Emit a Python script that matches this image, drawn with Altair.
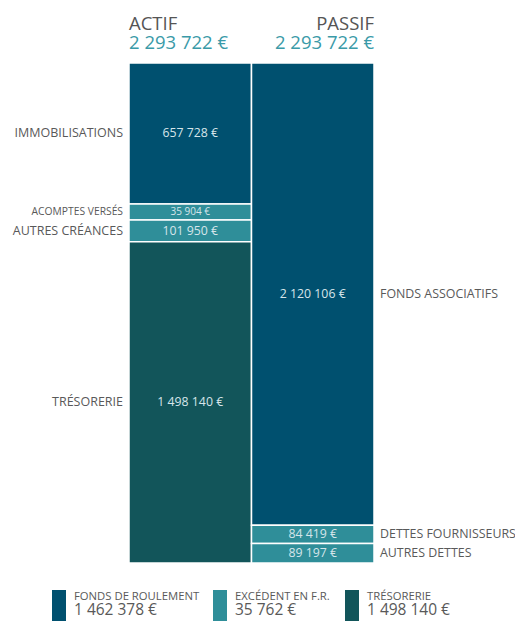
import altair as alt
import pandas as pd

# ---- data ----
actif_labels = ["IMMOBILISATIONS", "ACOMPTES VERSÉS", "AUTRES CRÉANCES", "TRÉSORERIE"]
actif_values = [657728, 35904, 101950, 1498140]
actif_groups = ["FONDS DE ROULEMENT", "EXCÉDENT EN F.R.", "EXCÉDENT EN F.R.", "TRÉSORERIE"]

passif_labels = ["FONDS ASSOCIATIFS", "DETTES FOURNISSEURS", "AUTRES DETTES"]
passif_values = [2120106, 84419, 89197]
passif_groups = ["FONDS DE ROULEMENT", "EXCÉDENT EN F.R.", "EXCÉDENT EN F.R."]

legend_labels = ["FONDS DE ROULEMENT", "EXCÉDENT EN F.R.", "TRÉSORERIE"]
legend_values = [1462378, 35762, 1498140]
legend_colors = ["#00506f", "#2f8e99", "#12555a"]

sides = ["ACTIF", "PASSIF"]

FONT = "Open Sans"
MIN_SHARE = 0.032  # minimum displayed share of a segment


def euro(v):
    return f"{v:,}".replace(",", " ") + " €"


def build(side, labels, values, groups):
    total = sum(values)
    min_v = MIN_SHARE * total
    small = [v < min_v for v in values]
    extra = sum(min_v - v for v, s in zip(values, small) if s)
    big_sum = sum(v for v, s in zip(values, small) if not s)
    disp = [min_v if s else v - extra * v / big_sum for v, s in zip(values, small)]
    rows, start = [], 0.0
    for lab, v, g, d, s in zip(labels, values, groups, disp, small):
        rows.append(dict(side=side, label=lab, value=v, text=euro(v), group=g,
                         y0=start, y1=start + d, mid=start + d / 2, small=s))
        start += d
    return rows


df = pd.DataFrame(build("ACTIF", actif_labels, actif_values, actif_groups)
                  + build("PASSIF", passif_labels, passif_values, passif_groups))
total = sum(actif_values)

titles = pd.DataFrame({"side": sides, "total": [euro(sum(actif_values)), euro(sum(passif_values))]})
leg = pd.DataFrame({"label": legend_labels, "text": [euro(v) for v in legend_values]})

yscale = alt.Scale(domain=[0, total], reverse=True, nice=False, zero=True)
xscale = alt.Scale(domain=sides, paddingInner=0, paddingOuter=0)

base = alt.Chart(df)

rects = base.mark_rect(stroke="white", strokeWidth=1.5).encode(
    x=alt.X("side:N", scale=xscale, axis=None),
    y=alt.Y("y0:Q", scale=yscale, axis=None),
    y2="y1:Q",
    color=alt.Color("group:N", scale=alt.Scale(domain=legend_labels, range=legend_colors), legend=None),
)

inner = base.mark_text(font=FONT, color="#d6e5ea", baseline="middle").encode(
    x=alt.X("side:N", scale=xscale, axis=None),
    y=alt.Y("mid:Q", scale=yscale, axis=None),
    text="text:N",
    size=alt.condition("datum.small", alt.value(10), alt.value(12.3)),
)

left_lab = base.transform_filter("datum.side == 'ACTIF'").mark_text(
    font=FONT, color="#595959", align="right", baseline="middle"
).encode(
    x=alt.value(-6),
    y=alt.Y("mid:Q", scale=yscale, axis=None),
    text="label:N",
    size=alt.condition("datum.small", alt.value(10.3), alt.value(12.5)),
)

right_lab = base.transform_filter("datum.side == 'PASSIF'").mark_text(
    font=FONT, color="#595959", align="left", baseline="middle", fontSize=12.4
).encode(
    x=alt.value(251),
    y=alt.Y("mid:Q", scale=yscale, axis=None),
    text="label:N",
)

tbase = alt.Chart(titles)
t_actif = tbase.transform_filter("datum.side == 'ACTIF'")
t_passif = tbase.transform_filter("datum.side == 'PASSIF'")

title_layers = []
for tb, xv, al in [(t_actif, 0, "left"), (t_passif, 245, "right")]:
    title_layers.append(tb.mark_text(font=FONT, fontSize=18.5, color="#555555", align=al, baseline="alphabetic").encode(
        x=alt.value(xv), y=alt.value(-33), text="side:N"))
    title_layers.append(tb.mark_text(font=FONT, fontSize=18.5, color="#3a9aa8", align=al, baseline="top").encode(
        x=alt.value(xv), y=alt.value(-29), text="total:N"))

legend_layers = []
lbase = alt.Chart(leg)
for lab, col, xs in zip(legend_labels, legend_colors, [-77, 84, 216]):
    lb = lbase.transform_filter(alt.datum.label == lab)
    legend_layers.append(lb.mark_rect(color=col).encode(
        x=alt.value(xs), x2=alt.value(xs + 14), y=alt.value(527), y2=alt.value(558)))
    legend_layers.append(lb.mark_text(font=FONT, fontSize=11.3, color="#595959", align="left", baseline="alphabetic").encode(
        x=alt.value(xs + 22), y=alt.value(537), text="label:N"))
    legend_layers.append(lb.mark_text(font=FONT, fontSize=15.5, color="#595959", align="left", baseline="top").encode(
        x=alt.value(xs + 22), y=alt.value(540), text="text:N"))

chart = alt.layer(rects, inner, left_lab, right_lab, *title_layers, *legend_layers).properties(
    width=245,
    height=500,
    padding={"left": 121, "top": 55, "right": 141, "bottom": 58},
    autosize=alt.AutoSizeParams(type="none"),
).configure_view(stroke=None)

chart.save("out.html", embed_options={"renderer": "svg", "actions": False})
